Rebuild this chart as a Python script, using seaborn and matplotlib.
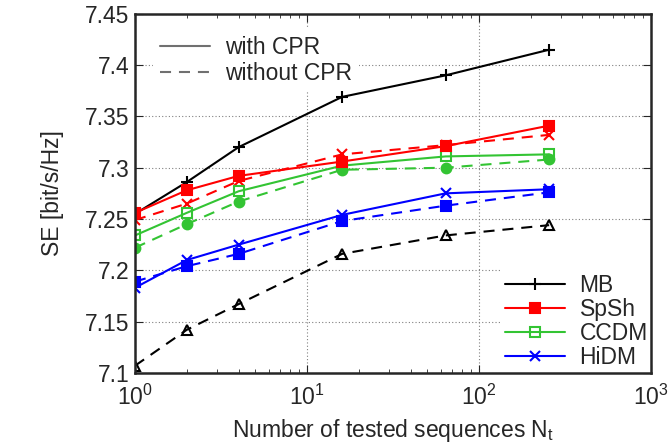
import numpy as np
import pandas as pd
import seaborn as sns
import matplotlib.pyplot as plt
from matplotlib.lines import Line2D
from matplotlib.ticker import FuncFormatter

# tested sequences
n_tested = [1, 2, 4, 16, 64, 256]

# with CPR (solid)
mb_cpr = [7.255, 7.286, 7.320, 7.369, 7.390, 7.415]
spsh_cpr = [7.256, 7.278, 7.292, 7.306, 7.321, 7.341]
ccdm_cpr = [7.234, 7.256, 7.277, 7.302, 7.311, 7.313]
hidm_cpr = [7.183, 7.210, 7.225, 7.254, 7.275, 7.279]

# without CPR (dashed)
mb_nocpr = [7.107, 7.142, 7.167, 7.216, 7.234, 7.244]
spsh_nocpr = [7.249, 7.265, 7.287, 7.313, 7.322, 7.332]
ccdm_nocpr = [7.222, 7.245, 7.267, 7.298, 7.300, 7.308]
hidm_nocpr = [7.189, 7.204, 7.216, 7.248, 7.263, 7.276]

schemes = ["MB", "SpSh", "CCDM", "HiDM"]
colors = {"MB": "black", "SpSh": "#ff0000", "CCDM": "#33c433", "HiDM": "#0000ff"}

FS = 16.5
DASH = (0, (5.3, 3.8))

sns.set_style("ticks")
plt.rcParams['font.family'] = ['Liberation Sans', 'DejaVu Sans']
plt.rcParams['mathtext.default'] = 'regular'

fig = plt.figure(figsize=(6.7, 4.45), dpi=100)
ax = fig.add_axes([0.2015, 0.162, 0.770, 0.807])

# (values, scheme, linestyle, marker, filled)
series = [
    (mb_nocpr, "MB", DASH, "^", False),
    (hidm_nocpr, "HiDM", DASH, "s", True),
    (ccdm_nocpr, "CCDM", DASH, "o", True),
    (spsh_nocpr, "SpSh", DASH, "x", True),
    (mb_cpr, "MB", "-", "+", True),
    (hidm_cpr, "HiDM", "-", "x", True),
    (ccdm_cpr, "CCDM", "-", "s", False),
    (spsh_cpr, "SpSh", "-", "s", True),
]

for vals, name, ls, mk, filled in series:
    df = pd.DataFrame({"N": n_tested, "SE": vals})
    c = colors[name]
    sns.lineplot(data=df, x="N", y="SE", ax=ax, color=c, linestyle=ls,
                 marker=mk, markersize=7 if mk != "+" else 9,
                 markerfacecolor=c if filled else "none",
                 markeredgecolor=c, markeredgewidth=1.5, linewidth=1.5)

ax.set_xscale("log")
ax.set_xlim(1, 1000)
ax.set_ylim(7.1, 7.45)
ax.set_yticks(np.arange(7.1, 7.451, 0.05))
ax.yaxis.set_major_formatter(FuncFormatter(lambda v, p: f"{v:g}"))
ax.grid(True, which="major", linestyle=(0, (1, 2)), color="#808080", linewidth=0.8)
ax.tick_params(which="both", direction="in", top=True, right=True, labelsize=FS)
ax.tick_params(axis="y", which="major", length=6, pad=4)
ax.tick_params(axis="x", which="major", length=6, pad=8.5)
ax.tick_params(which="minor", length=3)
for s in ax.spines.values():
    s.set_linewidth(1.8)

ax.set_xlabel("Number of tested sequences N$_t$", fontsize=FS, labelpad=5)
ax.set_ylabel("SE [bit/s/Hz]", fontsize=FS, labelpad=15)

h1 = [Line2D([], [], color="#707070", linestyle="-", linewidth=1.5),
      Line2D([], [], color="#707070", linestyle=DASH, linewidth=1.5)]
leg1 = ax.legend(h1, ["with CPR", "without CPR"], loc="upper left",
                 bbox_to_anchor=(0.035, 0.958), borderaxespad=0, borderpad=0.3,
                 fontsize=FS, frameon=True,
                 facecolor="white", edgecolor="none", framealpha=1,
                 handlelength=2.2, handletextpad=0.65, labelspacing=0.15,
                 fancybox=False)
ax.add_artist(leg1)

mk2 = {"MB": ("+", True), "SpSh": ("s", True), "CCDM": ("s", False), "HiDM": ("x", True)}
h2 = []
for name in schemes:
    m, f = mk2[name]
    c = colors[name]
    h2.append(Line2D([], [], color=c, marker=m, markersize=7 if m != "+" else 9,
                     markerfacecolor=c if f else "none", markeredgecolor=c,
                     markeredgewidth=1.5, linewidth=1.5))
leg2 = ax.legend(h2, schemes, loc="lower right", bbox_to_anchor=(1.003, -0.003),
                 borderaxespad=0, borderpad=0.2,
                 fontsize=FS, frameon=True, facecolor="white", edgecolor="none",
                 framealpha=1, handlelength=2.6, handletextpad=0.65,
                 labelspacing=0.05, fancybox=False)
leg1.set_zorder(1)
leg2.set_zorder(1)

fig.savefig("out.png", dpi=100)
